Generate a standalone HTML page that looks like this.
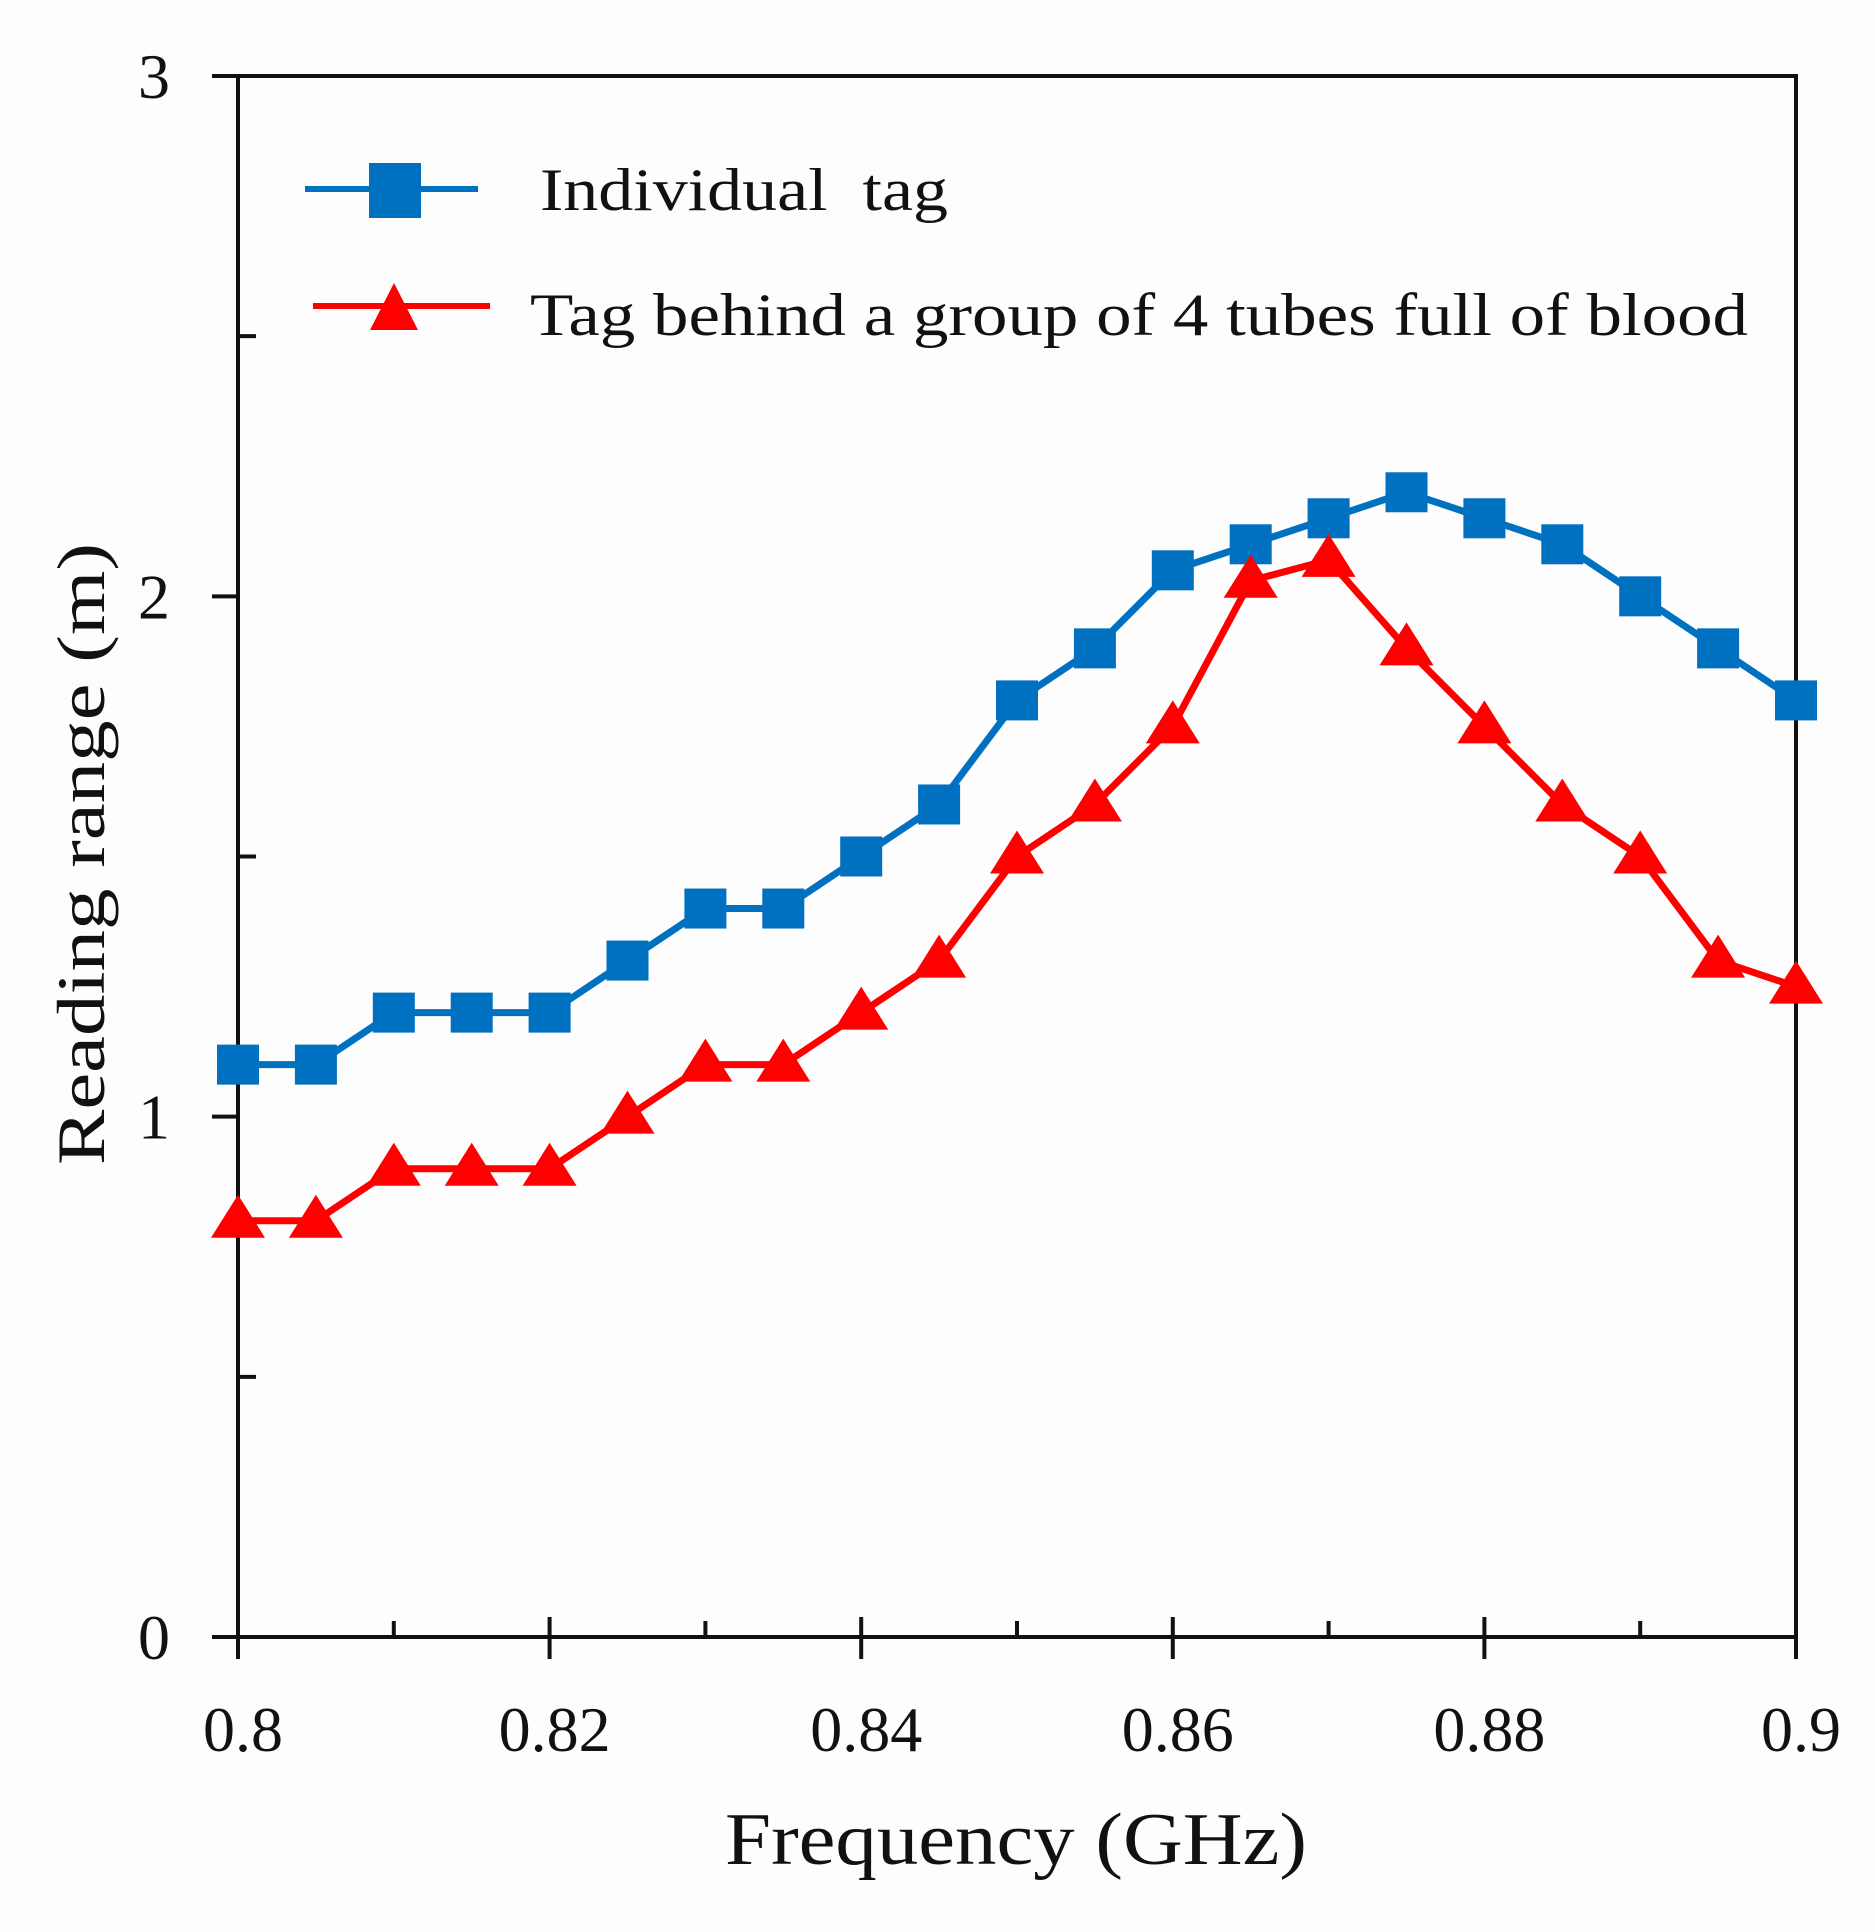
<!DOCTYPE html>
<html><head><meta charset="utf-8">
<style>
html,body{margin:0;padding:0;background:#fdfdfd;}
svg{display:block;}
text{font-family:"Liberation Serif",serif;fill:#111;}
</style></head>
<body>
<svg id="chart" width="1875" height="1932" viewBox="0 0 1875 1932" xmlns="http://www.w3.org/2000/svg">
  <rect x="0" y="0" width="1875" height="1932" fill="#fdfdfd"/>
  <g id="axes"></g>
  <g id="series"></g>
  <g id="legend">
    <line x1="305" y1="189" x2="478" y2="189" stroke="#0070c0" stroke-width="6"/>
    <rect x="369" y="163" width="52" height="55" fill="#0070c0"/>
    <text x="540" y="210" font-size="60" textLength="408" lengthAdjust="spacingAndGlyphs">Individual&#160; tag</text>
    <line x1="313" y1="306" x2="490" y2="306" stroke="#ff0000" stroke-width="6"/>
    <polygon points="394,283 370,330 418,330" fill="#ff0000"/>
    <text x="530" y="335" font-size="60" textLength="1218" lengthAdjust="spacingAndGlyphs">Tag behind a group of 4 tubes full of blood</text>
  </g>
  <text x="725" y="1864" font-size="74" textLength="582" lengthAdjust="spacingAndGlyphs">Frequency (GHz)</text>
  <text transform="translate(104,1165) rotate(-90)" font-size="68" textLength="622" lengthAdjust="spacingAndGlyphs">Reading range (m)</text>
</svg>
<script>
const freqs = [0.800,0.805,0.810,0.815,0.820,0.825,0.830,0.835,0.840,0.845,0.850,0.855,0.860,0.865,0.870,0.875,0.880,0.885,0.890,0.895,0.900];
const individualTag = [1.1,1.1,1.2,1.2,1.2,1.3,1.4,1.4,1.5,1.6,1.8,1.9,2.05,2.1,2.15,2.2,2.15,2.1,2.0,1.9,1.8];
const behindBlood = [0.8,0.8,0.9,0.9,0.9,1.0,1.1,1.1,1.2,1.3,1.5,1.6,1.75,2.03,2.07,1.9,1.75,1.6,1.5,1.3,1.25];
const xTickLabels = ["0.8","0.82","0.84","0.86","0.88","0.9"];
const xTickValues = [0.80,0.82,0.84,0.86,0.88,0.90];
const yTickLabels = ["0","1","2","3"];
const yTickValues = [0,1,2,3];

const NS="http://www.w3.org/2000/svg";
const L=238,R=1796,B=1637,T=76;
const xMin=0.8,xMax=0.9,yMin=0,yMax=3;
function sx(v){return L+(v-xMin)/(xMax-xMin)*(R-L);}
function sy(v){return B-(v-yMin)/(yMax-yMin)*(B-T);}
function mk(tag,attrs,parent){const e=document.createElementNS(NS,tag);for(const k in attrs)e.setAttribute(k,attrs[k]);parent.appendChild(e);return e;}

const axes=document.getElementById('axes');
const frame=mk('rect',{x:L,y:T,width:R-L,height:B-T,fill:'none',stroke:'#111','stroke-width':4},axes);


for(let i=0;i<yTickValues.length;i++){
  const y=sy(yTickValues[i]);
  const t=mk('line',{x1:L-26,y1:y,x2:L,y2:y,stroke:'#111','stroke-width':4},axes);
  
  
  const lb=mk('text',{x:L-68,y:y+22,'font-size':64,'text-anchor':'end'},axes);
  lb.textContent=yTickLabels[i];
  
  
  if(i<yTickValues.length-1){
    const ym=sy(yTickValues[i]+0.5);
    const m=mk('line',{x1:L,y1:ym,x2:L+18,y2:ym,stroke:'#111','stroke-width':4},axes);
    
    
  }
}
for(let i=0;i<xTickValues.length;i++){
  const x=sx(xTickValues[i]);
  const t=mk('line',{x1:x,y1:B-20,x2:x,y2:B+22,stroke:'#111','stroke-width':4},axes);
  
  
  const lb=mk('text',{x:x+5,y:B+114,'font-size':64,'text-anchor':'middle'},axes);
  lb.textContent=xTickLabels[i];
  
  
  if(i<xTickValues.length-1){
    const xm=sx(xTickValues[i]+0.01);
    const m=mk('line',{x1:xm,y1:B-16,x2:xm,y2:B,stroke:'#111','stroke-width':4},axes);
    
    
  }
}
const ser=document.getElementById('series');
function pts(vals){return freqs.map((f,i)=>sx(f)+','+sy(vals[i])).join(' ');}
const lb=mk('polyline',{points:pts(individualTag),fill:'none',stroke:'#0070c0','stroke-width':7},ser);


const lr=mk('polyline',{points:pts(behindBlood),fill:'none',stroke:'#ff0000','stroke-width':7},ser);


for(let i=0;i<freqs.length;i++){
  const x=sx(freqs[i]),y=sy(individualTag[i]);
  const s=mk('rect',{x:x-21,y:y-20,width:42,height:40,fill:'#0070c0'},ser);
  
  
}
for(let i=0;i<freqs.length;i++){
  const x=sx(freqs[i]),y=sy(behindBlood[i]);
  const p=mk('polygon',{points:`${x},${y-26} ${x-27},${y+17} ${x+27},${y+17}`,fill:'#ff0000'},ser);
  
  
}
</script>
</body></html>
